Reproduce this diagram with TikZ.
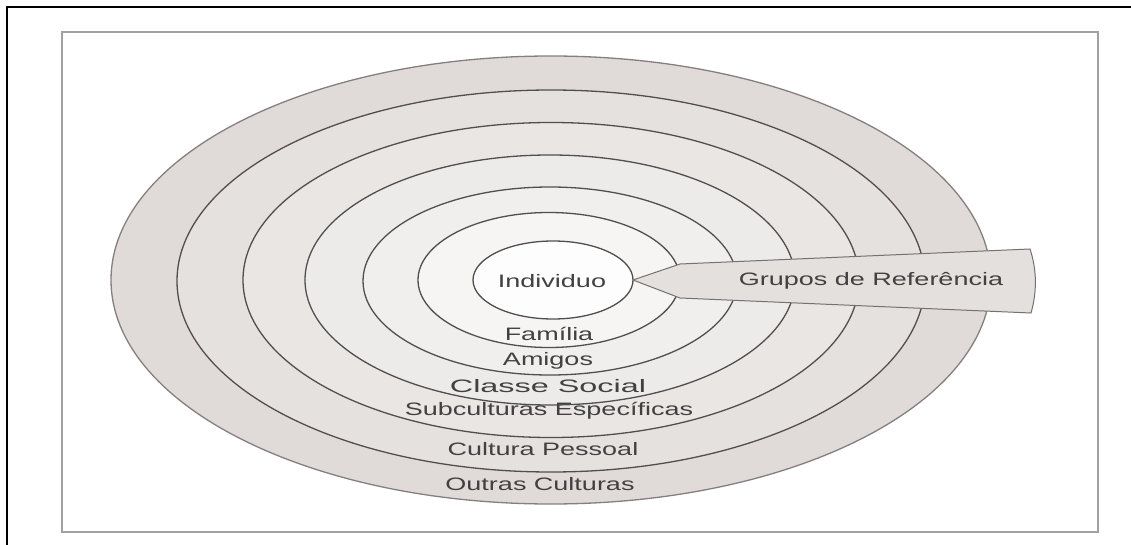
\documentclass[tikz,border=0pt]{standalone}
\usepackage{fontspec}
\setmainfont{Liberation Sans}
\usetikzlibrary{shapes.geometric}

\definecolor{ringline}{HTML}{524E4E}
\definecolor{outerline}{HTML}{858080}
\definecolor{framegray}{HTML}{A2A0A0}
\definecolor{labelgray}{HTML}{424040}
\definecolor{ringA}{HTML}{E0DBD8}
\definecolor{ringB}{HTML}{E5E1DE}
\definecolor{ringC}{HTML}{E9E6E4}
\definecolor{ringD}{HTML}{EDEBE9}
\definecolor{ringE}{HTML}{F1EFEE}
\definecolor{ringF}{HTML}{F6F5F4}
\definecolor{ringG}{HTML}{FDFDFD}
\definecolor{tabfill}{HTML}{E4E0DD}

\begin{document}
\begin{tikzpicture}[x=1pt,y=-1pt,
  ring/.style={ellipse, draw=ringline, line width=1.3pt, inner sep=0pt, outer sep=0pt},
  lbl/.style={text=labelgray, font=\fontsize{18}{20}\selectfont, inner sep=0pt, xscale=1.5}]
\useasboundingbox (0,0) rectangle (1131,545);
\fill[white] (0,0) rectangle (1131,545);

% page edges and frame
\draw[black, line width=2pt] (7,545) -- (7,7) -- (1131,7);
\draw[framegray, line width=2.5pt] (62,32) rectangle (1098,532);

% nested rings, outermost first
\node[ring, draw=outerline, fill=ringA, minimum width=880pt, minimum height=448pt] (r6) at (551,280) {};
\node[ring, fill=ringB, minimum width=748pt, minimum height=382pt] (r5) at (551,281) {};
\node[ring, fill=ringC, minimum width=616pt, minimum height=315pt] (r4) at (551,280) {};
\node[ring, fill=ringD, minimum width=490pt, minimum height=250pt] (r3) at (550,280) {};
\node[ring, fill=ringE, minimum width=374pt, minimum height=188pt] (r2) at (550,281) {};
\node[ring, fill=ringF, minimum width=262pt, minimum height=135pt] (r1) at (549,280) {};
\node[ring, fill=ringG, minimum width=160pt, minimum height=78pt] (ind) at (553,280) {};

% reference-group tab
\filldraw[fill=tabfill, draw=ringline!80, line width=1pt]
  (ind.east) -- (680,264) -- (1030,249)
  .. controls (1037,270) and (1037,292) .. (1031,313)
  -- (680,298) -- cycle;

% labels
\node[lbl] (tind) at (552,281) {Individuo};
\node[lbl] (tgrp) at (871,281) {Grupos de Referência};
\node[lbl] (tfam) at (549,334) {Família};
\node[lbl] (tami) at (548,361) {Amigos};
\node[lbl, xscale=1.2] (tcla) at (548,386) {Classe Social};
\node[lbl] (tsub) at (549,411) {Subculturas Específicas};
\node[lbl] (tcul) at (543,449) {Cultura Pessoal};
\node[lbl] (tout) at (540,484) {Outras Culturas};
\end{tikzpicture}
\end{document}
